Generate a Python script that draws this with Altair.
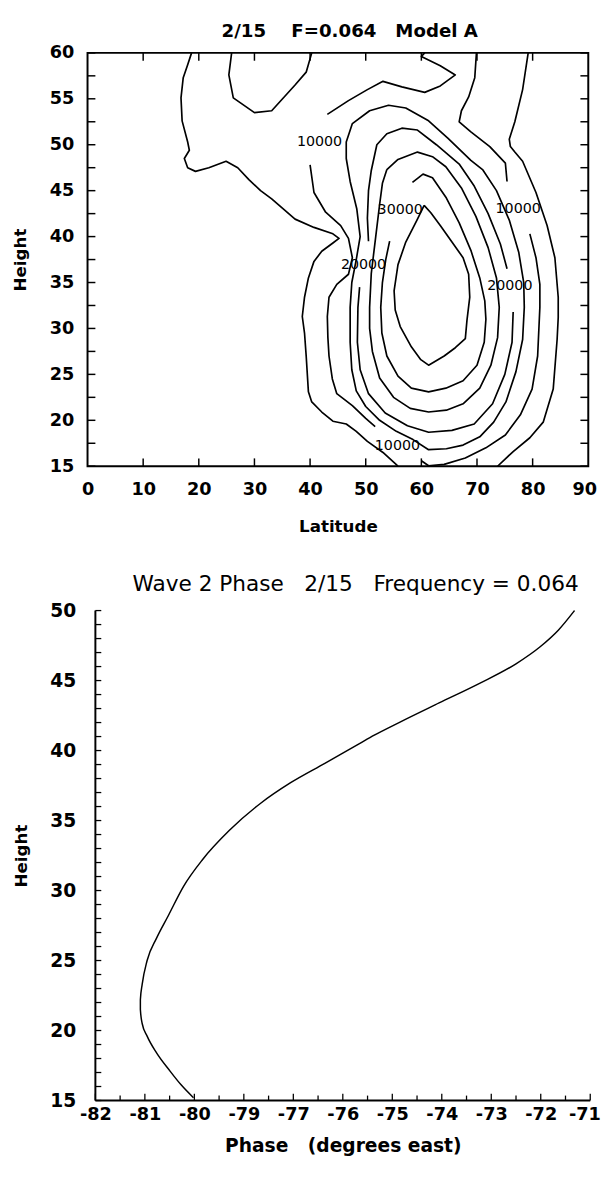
import altair as alt
import pandas as pd

# ---------------- top panel: contour paths (latitude, height) ----------------
c5000_left_lat = [18.7, 18.0, 17.2, 16.8, 17.0, 18.0, 18.3, 17.4, 18.0, 19.4, 21.8, 24.9, 27.0, 29.0, 31.1, 33.1, 37.3, 40.7, 44.1, 45.2, 44.1, 42.1, 40.7, 39.7, 39.0, 38.6, 39.0, 39.3, 39.7, 40.3, 42.1, 44.1, 46.5, 48.3, 50.3, 53.1, 55.8]
c5000_left_h = [60.0, 58.7, 57.3, 55.1, 52.6, 50.3, 49.4, 48.5, 47.5, 47.1, 47.5, 48.2, 47.5, 46.2, 45.0, 44.1, 41.9, 41.0, 40.3, 39.8, 39.3, 38.4, 37.3, 35.5, 33.4, 31.3, 29.5, 27.0, 23.1, 22.0, 20.9, 19.9, 19.6, 18.8, 17.7, 16.5, 15.0]
c5000_lobe_lat = [25.9, 25.4, 26.2, 30.0, 33.1, 37.3, 39.3, 40.3]
c5000_lobe_h = [60.0, 57.6, 55.1, 53.5, 53.7, 56.5, 57.9, 60.0]
c5000_right_lat = [79.2, 78.2, 76.8, 75.8, 76.0, 76.8, 78.2, 80.6, 82.6, 84.0, 84.6, 84.6, 84.4, 83.7, 81.9, 79.5, 76.5, 73.7]
c5000_right_h = [60.0, 56.0, 52.5, 50.6, 49.8, 49.2, 48.2, 44.8, 41.2, 37.7, 33.4, 31.2, 28.8, 23.4, 19.8, 18.1, 16.6, 15.0]

c10000_top_lat = [60.6, 60.0, 63.4, 66.1, 63.4, 60.6, 56.5, 53.1, 50.3, 46.9, 43.1]
c10000_top_h = [60.0, 59.6, 58.6, 57.6, 56.4, 55.7, 56.3, 56.9, 56.0, 54.8, 53.3]
c10000_left_lat = [40.0, 40.7, 42.8, 45.5, 46.9, 47.6, 46.9, 44.8, 43.4, 43.1, 43.2, 43.4, 44.0, 44.8, 47.6, 50.0, 51.7]
c10000_left_h = [47.8, 44.8, 42.65, 41.2, 39.8, 37.7, 35.9, 34.8, 33.4, 31.3, 29.0, 27.0, 24.5, 22.9, 21.6, 20.2, 19.3]
c10000_bot_lat = [60.0, 61.3, 64.1, 67.9, 71.6, 75.1, 77.8, 79.9, 80.9, 81.3, 81.3, 80.6, 79.5]
c10000_bot_h = [15.6, 15.05, 15.2, 15.9, 17.0, 18.4, 20.6, 23.4, 27.0, 32.3, 34.8, 37.7, 40.3]
c10000_right_lat = [75.4, 75.1, 72.3, 68.9, 66.8, 67.2, 68.5, 69.6, 69.9]
c10000_right_h = [46.0, 48.0, 49.8, 51.4, 52.5, 53.7, 55.2, 57.3, 60.0]

c15000_lat = [71.0, 73.5, 75.8, 77.5, 78.4, 78.5, 78.2, 77.0, 75.2, 73.0, 70.5, 67.5, 64.5, 61.3, 58.5, 55.5, 52.5, 50.0, 48.3, 47.5, 47.2, 47.2, 47.5, 48.3, 49.0, 48.4, 47.2, 46.5, 46.5, 47.6, 50.7, 54.1, 57.2, 61.3, 64.8, 68.9, 71.0]
c15000_h = [47.3, 45.0, 41.8, 38.3, 35.0, 32.3, 28.8, 25.3, 22.0, 19.8, 18.2, 17.3, 16.9, 16.8, 17.9, 18.8, 20.0, 21.5, 23.2, 25.5, 28.5, 32.3, 35.0, 37.5, 40.0, 43.0, 46.0, 48.5, 50.3, 52.3, 53.7, 54.3, 54.0, 52.6, 50.7, 48.3, 47.3]

c20000_low_lat = [76.5, 76.3, 75.0, 72.8, 69.5, 65.5, 61.3, 57.5, 53.5, 50.5, 49.0, 48.5, 48.6, 48.9]
c20000_low_h = [31.8, 28.5, 25.0, 21.8, 19.6, 18.9, 18.7, 19.4, 20.8, 22.9, 25.5, 28.5, 32.3, 34.5]
c20000_up_lat = [50.5, 50.3, 50.5, 51.0, 52.0, 53.8, 56.5, 59.3, 62.7, 66.8, 69.5, 72.0, 74.2, 75.4]
c20000_up_h = [39.5, 42.0, 45.0, 47.2, 50.0, 51.2, 51.8, 51.6, 50.0, 47.9, 45.5, 42.5, 39.2, 36.5]

c25000_lat = [53.8, 55.8, 59.3, 62.0, 64.4, 67.2, 69.8, 72.0, 73.5, 74.0, 73.7, 72.5, 70.5, 67.5, 64.5, 61.3, 58.0, 55.0, 52.5, 51.2, 50.7, 50.7, 51.0, 51.8, 52.5, 53.0, 53.8]
c25000_h = [47.3, 48.4, 49.2, 48.7, 47.6, 45.3, 42.2, 38.8, 35.5, 32.3, 29.0, 26.0, 23.5, 21.8, 21.1, 20.9, 21.3, 22.5, 24.6, 27.5, 30.0, 32.3, 36.0, 40.0, 43.5, 45.8, 47.3]

c30000_lat = [58.4, 60.3, 62.0, 64.5, 66.8, 68.9, 70.5, 71.4, 71.6, 71.3, 70.0, 67.5, 64.4, 61.3, 58.2, 55.8, 53.8, 52.9, 52.7, 53.0, 53.6, 54.3]
c30000_h = [45.9, 46.8, 46.4, 44.2, 41.5, 38.5, 35.5, 33.0, 31.0, 28.5, 26.0, 24.3, 23.5, 23.1, 23.5, 24.8, 27.0, 29.5, 32.3, 35.0, 37.5, 39.5]

c35000_lat = [60.5, 59.3, 57.2, 55.8, 55.1, 55.3, 56.2, 58.2, 59.9, 61.3, 64.1, 66.1, 67.9, 68.2, 68.7, 68.5, 67.5, 65.5, 63.4, 61.7, 60.5]
c35000_h = [43.4, 41.9, 39.4, 36.95, 34.1, 32.0, 30.2, 28.0, 26.6, 26.0, 27.0, 27.9, 28.9, 30.9, 33.4, 35.9, 37.7, 39.4, 41.2, 42.6, 43.4]

paths = {
    "c5000_left": (c5000_left_lat, c5000_left_h),
    "c5000_lobe": (c5000_lobe_lat, c5000_lobe_h),
    "c5000_right": (c5000_right_lat, c5000_right_h),
    "c10000_top": (c10000_top_lat, c10000_top_h),
    "c10000_left": (c10000_left_lat, c10000_left_h),
    "c10000_bot": (c10000_bot_lat, c10000_bot_h),
    "c10000_right": (c10000_right_lat, c10000_right_h),
    "c15000": (c15000_lat, c15000_h),
    "c20000_low": (c20000_low_lat, c20000_low_h),
    "c20000_up": (c20000_up_lat, c20000_up_h),
    "c25000": (c25000_lat, c25000_h),
    "c30000": (c30000_lat, c30000_h),
    "c35000": (c35000_lat, c35000_h),
}

contour_label_text = ["10000", "30000", "10000", "20000", "20000", "10000"]
contour_label_lat = [41.7, 56.2, 77.4, 49.6, 75.9, 55.7]
contour_label_h = [50.3, 42.9, 43.0, 36.95, 34.6, 17.2]

lat_ticks = [0, 10, 20, 30, 40, 50, 60, 70, 80, 90]
height_ticks_top = [15, 20, 25, 30, 35, 40, 45, 50, 55, 60]
height_minor_top = [15, 17.5, 20, 22.5, 25, 27.5, 30, 32.5, 35, 37.5, 40, 42.5, 45, 47.5, 50, 52.5, 55, 57.5, 60]

# ---------------- bottom panel: wave 2 phase profile ----------------
phase_height = [15.2, 16.1, 17.1, 18.4, 19.6, 20.5, 21.5, 22.2, 23.3, 25.0, 26.6, 28.2, 30.3, 32.2, 34.3, 36.2, 37.7, 39.1, 40.5, 41.1, 42.0, 43.4, 44.8, 46.2, 47.4, 48.6, 50.0]
phase_deg = [-79.82, -80.09, -80.34, -80.64, -80.85, -80.96, -81.0, -81.0, -80.96, -80.85, -80.64, -80.38, -80.04, -79.62, -79.02, -78.34, -77.66, -76.89, -76.13, -75.80, -75.25, -74.36, -73.46, -72.65, -72.12, -71.71, -71.35]

phase_tick_values = [-82, -80.9, -79.8, -78.7, -77.6, -76.5, -75.4, -74.3, -73.2, -72.1, -71]
phase_tick_labels = ["-82", "-81", "-80", "-79", "-77", "-76", "-75", "-74", "-73", "-72", "-71"]
phase_minor = [-81.45, -80.35, -79.25, -78.15, -77.05, -75.95, -74.85, -73.75, -72.65, -71.55]
height_ticks_bot = [15, 20, 25, 30, 35, 40, 45, 50]
height_minor_bot = list(range(15, 51))

title_top = "2/15\u00a0\u00a0\u00a0 F=0.064\u00a0\u00a0 Model A"
title_bottom = "Wave 2 Phase\u00a0\u00a0 2/15\u00a0\u00a0 Frequency = 0.064"

FONT = "DejaVu Sans"

# ---------------- build top panel ----------------
rows = []
for name, (la, hh) in paths.items():
    for i, (a, b) in enumerate(zip(la, hh)):
        rows.append({"path": name, "i": i, "lat": a, "h": b})
cdf = pd.DataFrame(rows)

W1, H1 = 510, 421
xs1 = alt.Scale(domain=[0, 90], nice=False, zero=False)
ys1 = alt.Scale(domain=[15, 60], nice=False, zero=False)

lines = alt.Chart(cdf).mark_line(color="black", strokeWidth=1.7, clip=True, strokeJoin="round").encode(
    x=alt.X("lat:Q", scale=xs1, title="Latitude",
            axis=alt.Axis(values=lat_ticks, ticks=False, tickSize=0, domain=False, grid=False,
                          labelFlush=False,
                          labelOffset={"condition": {"test": "datum.value > 85", "value": -4}, "value": 0},
                          labelFont=FONT, labelFontWeight="bold", labelFontSize=18, labelColor="black",
                          labelPadding=15, titleFont=FONT, titleFontWeight="bold", titleFontSize=17,
                          titleColor="black", titlePadding=20)),
    y=alt.Y("h:Q", scale=ys1, title="Height",
            axis=alt.Axis(values=height_ticks_top, ticks=False, tickSize=0, domain=False, grid=False,
                          labelFont=FONT, labelFontWeight="bold", labelFontSize=18, labelColor="black",
                          labelPadding=14, titleFont=FONT, titleFontWeight="bold", titleFontSize=17,
                          titleColor="black", titlePadding=20)),
    detail="path:N",
    order="i:Q",
)

lab_df = pd.DataFrame({"t": contour_label_text, "lat": contour_label_lat, "h": contour_label_h})
labels = alt.Chart(lab_df).mark_text(font=FONT, fontSize=14.5, color="black").encode(
    x=alt.X("lat:Q", scale=xs1), y=alt.Y("h:Q", scale=ys1), text="t:N")

ty_df = pd.DataFrame({"v": height_minor_top})
tx_df = pd.DataFrame({"v": lat_ticks[1:-1]})
lt = alt.Chart(ty_df).mark_rule(color="black", strokeWidth=1.5).encode(
    y=alt.Y("v:Q", scale=ys1), x=alt.value(0), x2=alt.value(8))
rt = alt.Chart(ty_df).mark_rule(color="black", strokeWidth=1.5).encode(
    y=alt.Y("v:Q", scale=ys1), x=alt.value(W1 - 8), x2=alt.value(W1))
bt = alt.Chart(tx_df).mark_rule(color="black", strokeWidth=1.5).encode(
    x=alt.X("v:Q", scale=xs1), y=alt.value(H1 - 8), y2=alt.value(H1))
tt = alt.Chart(tx_df).mark_rule(color="black", strokeWidth=1.5).encode(
    x=alt.X("v:Q", scale=xs1), y=alt.value(0), y2=alt.value(8))

ttl1 = alt.Chart(pd.DataFrame({"t": [title_top]})).mark_text(
    font=FONT, fontSize=18.5, fontWeight="bold", color="black", baseline="alphabetic", align="center"
).encode(text="t:N", x=alt.value(267), y=alt.value(-16))

top = alt.layer(lines, labels, lt, rt, bt, tt, ttl1).properties(
    width=W1, height=H1, view=alt.ViewBackground(stroke="black", strokeWidth=2))

# ---------------- build bottom panel ----------------
W2, H2 = 512, 499
X0 = 8
pdf = pd.DataFrame({"h": phase_height, "p": phase_deg})
xs2 = alt.Scale(domain=[-82, -71], range=[X0, W2], nice=False, zero=False)
ys2 = alt.Scale(domain=[15, 50], nice=False, zero=False)

expr = "''"
for v, lab in reversed(list(zip(phase_tick_values, phase_tick_labels))):
    expr = f"(abs(datum.value - ({v})) < 0.3 ? '{lab}' : {expr})"

pline = alt.Chart(pdf).mark_line(color="black", strokeWidth=1.5, interpolate="monotone").encode(
    x=alt.X("p:Q", scale=xs2, title="Phase\u00a0\u00a0 (degrees east)",
            axis=alt.Axis(values=phase_tick_values, labelExpr=expr, ticks=False, tickSize=0, domain=False,
                          grid=False, labelFlush=False,
                          labelOffset={"condition": {"test": "datum.value > -71.5", "value": -6}, "value": 0},
                          labelFont=FONT, labelFontWeight="bold", labelFontSize=18,
                          labelColor="black", labelPadding=5, titleFont=FONT, titleFontWeight="bold",
                          titleFontSize=19, titleColor="black", titlePadding=14)),
    y=alt.Y("h:Q", scale=ys2, title="Height",
            axis=alt.Axis(values=height_ticks_bot, ticks=False, tickSize=0, domain=False, grid=False,
                          labelFont=FONT, labelFontWeight="bold", labelFontSize=19, labelColor="black",
                          labelPadding=12, titleFont=FONT, titleFontWeight="bold", titleFontSize=17,
                          titleColor="black", titlePadding=20)),
    order="h:Q",
)

yt_df = pd.DataFrame({"v": height_minor_bot})
xt_df = pd.DataFrame({"v": phase_tick_values})
xm_df = pd.DataFrame({"v": phase_minor})
ax_left = alt.Chart(pd.DataFrame({"a": [0]})).mark_rule(color="black", strokeWidth=2).encode(
    x=alt.value(X0), y=alt.value(0), y2=alt.value(H2))
ax_bot = alt.Chart(pd.DataFrame({"a": [0]})).mark_rule(color="black", strokeWidth=2).encode(
    x=alt.value(X0), x2=alt.value(W2), y=alt.value(H2))
ytk = alt.Chart(yt_df).mark_rule(color="black", strokeWidth=1.3).encode(
    y=alt.Y("v:Q", scale=ys2), x=alt.value(X0), x2=alt.value(X0 + 6))
xtk = alt.Chart(xt_df).mark_rule(color="black", strokeWidth=1.3).encode(
    x=alt.X("v:Q", scale=xs2), y=alt.value(H2 - 7), y2=alt.value(H2))
xmk = alt.Chart(xm_df).mark_rule(color="black", strokeWidth=1.3).encode(
    x=alt.X("v:Q", scale=xs2), y=alt.value(H2 - 5), y2=alt.value(H2))

ttl2 = alt.Chart(pd.DataFrame({"t": [title_bottom]})).mark_text(
    font=FONT, fontSize=22, fontWeight="normal", color="black", baseline="alphabetic", align="center"
).encode(text="t:N", x=alt.value(273), y=alt.value(-20))

bottom = alt.layer(pline, ax_left, ax_bot, ytk, xtk, xmk, ttl2).properties(
    width=W2, height=H2, view=alt.ViewBackground(stroke=None))

chart = alt.vconcat(top, bottom, spacing=39).properties(
    padding={"left": 2, "top": 3, "right": 2, "bottom": 0})

chart.save("out.html", embed_options={"renderer": "svg", "actions": False})
